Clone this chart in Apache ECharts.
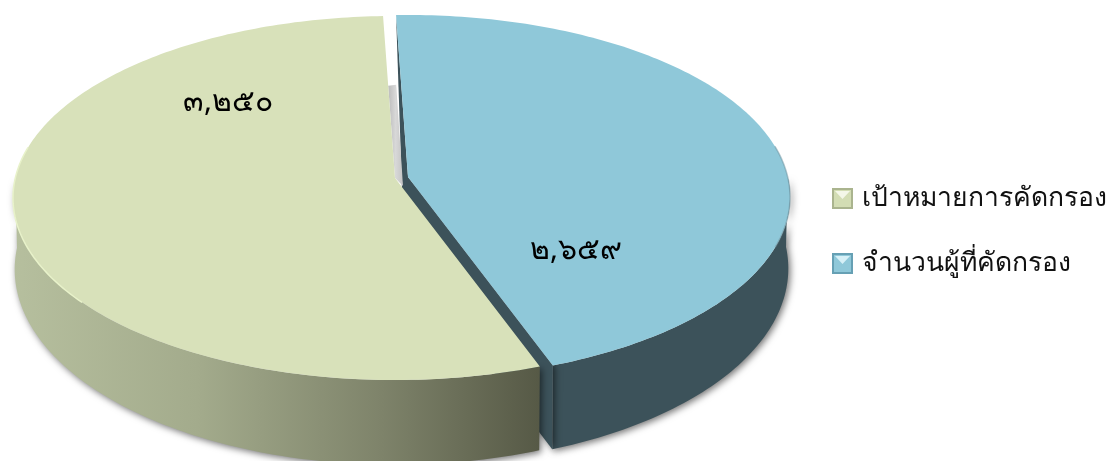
<!DOCTYPE html>
<html>
<head>
<meta charset="utf-8">
<style>html,body{margin:0;padding:0;background:#fff}#c{width:1113px;height:461px}</style>
<script src="https://cdn.jsdelivr.net/npm/echarts@6/dist/echarts.min.js"></script>
</head>
<body>
<div id="c"></div>
<script>
var categories = ['เป้าหมายการคัดกรอง', 'จำนวนผู้ที่คัดกรอง'];
var values = [3250, 2659];
var valueLabels = ['๓,๒๕๐', '๒,๖๕๙'];

var total = values[0] + values[1];
var START = -2;
var K = 0.11;
var planes = {
  top: {A: 179.8, B: 379.7},
  low: {A: 193, B: 378, dy: 70}
};
var looks = [
  {ax: 395, ay: 178, top: '#d8e1ba', rim: '#e8f2ca', wall: {type:'linear',x:13,y:0,x2:540,y2:0,global:true,colorStops:[
    {offset:0,color:'#b6bf9e'},{offset:.35,color:'#a3ab8c'},{offset:.7,color:'#7e836a'},{offset:1,color:'#565946'}]},
    lx: 228, ly: 102, legend:'#d8e1ba'},
  {ax: 408, ay: 177, top: '#8fc8d9', rim: 'rgba(110,145,157,.5)', wall: '#3c525a', lx: 576, ly: 250, legend:'#8fc8d9'}
];
function icon(light, base, dark) {
  var s = "<svg xmlns='http://www.w3.org/2000/svg' width='21' height='21'>" +
    "<rect width='21' height='21' fill='" + dark + "'/>" +
    "<rect x='2' y='2' width='17' height='17' fill='" + base + "'/>" +
    "<polygon points='3,3 18,3 10.5,11' fill='" + light + "'/></svg>";
  return 'image://data:image/svg+xml;charset=utf-8,' + encodeURIComponent(s);
}
function rad(d){return d*Math.PI/180;}
function pt(look, plane, deg) {
  var s = 1/(1 + K*Math.cos(rad(deg)));
  return [look.ax + plane.B*Math.sin(rad(deg))*s,
          look.ay + (plane.dy||0) - plane.A*Math.cos(rad(deg))*s];
}
function arc(look, plane, a, b) {
  var out = [], n = Math.max(2, Math.ceil(Math.abs(b-a)));
  for (var i=0;i<=n;i++) out.push(pt(look, plane, a+(b-a)*i/n));
  return out;
}
function slice(idx) {
  return function (params, api) {
    var look = looks[idx];
    var v = api.value(0);
    var span = v/total*360;
    var a = idx === 1 ? START : START + values[1]/total*360;
    var b = a + span;
    var apex = [look.ax, look.ay];
    var kids = [];
    var shadow = {shadowBlur:7, shadowColor:'rgba(0,0,0,.55)', shadowOffsetX:2, shadowOffsetY:2};
    var wa, wb;
    if (idx === 1) { wa = 90; wb = b; } else { wa = a; wb = 270; }
    var wallPts = arc(look, planes.top, wa, wb).concat(arc(look, planes.low, wa, wb).reverse());
    kids.push({type:'polygon', shape:{points:wallPts}, style:Object.assign({fill:look.wall}, shadow), silent:true});
    if (idx === 1) {
      var endTop = pt(look, planes.top, b), endLow = pt(look, planes.low, b);
      kids.push({type:'polygon', shape:{points:[apex, endTop, endLow, [look.ax, look.ay+planes.low.dy+13]]},
        style:Object.assign({fill:look.wall}, shadow), silent:true});
      var st = pt(look, planes.top, a);
      kids.push({type:'polygon', shape:{points:[st, apex, [look.ax, look.ay+20], [look.ax-6, look.ay+13]]},
        style:{fill:look.wall}, silent:true});
    } else {
      var e = pt(look, planes.top, b);
      var t = 0.43, p = [e[0]+(apex[0]-e[0])*t, e[1]+(apex[1]-e[1])*t];
      kids.push({type:'polygon', shape:{points:[p,[p[0]+8,p[1]-1],[apex[0]+8,apex[1]+8],apex]},
        style:{fill:{type:'linear',x:0,y:0,x2:1,y2:0,colorStops:[{offset:0,color:'#bcbcbc'},{offset:.5,color:'#d8d8d8'},{offset:1,color:'#c4c4c4'}]}}, silent:true});
    }
    var topPts = [apex].concat(arc(look, planes.top, a, b));
    kids.push({type:'polygon', shape:{points:topPts}, style:{fill:look.top}, silent:true});
    var rimA = idx === 1 ? 80 : 230, rimB = idx === 1 ? 112 : 280;
    kids.push({type:'polyline', shape:{points:arc(look, planes.top, rimA, rimB)},
      style:{fill:null, stroke:look.rim, lineWidth:1.5}, silent:true});
    kids.push({type:'text', x:look.lx, y:look.ly,
      style:{text:valueLabels[idx], fill:'#000', font:'30px "Noto Sans", "Liberation Sans", sans-serif', align:'center', verticalAlign:'middle'}, silent:true});
    return {type:'group', children:kids};
  };
}
function mk(idx) {
  return {type:'custom', name:categories[idx], coordinateSystem:'none', renderItem:slice(idx),
    itemStyle:{color:looks[idx].legend}, data:[[values[idx]]], animation:false, clip:false, silent:true};
}
var chart = echarts.init(document.getElementById('c'), null, {renderer:'canvas'});
chart.setOption({
  animation:false,
  backgroundColor:'#fff',
  legend:{
    orient:'vertical', left:832, top:185, padding:0, itemWidth:21, itemHeight:21, itemGap:38, selectedMode:false,
    textStyle:{fontSize:26.5, color:'#111', fontFamily:'"Noto Sans", "Liberation Sans", sans-serif', padding:[12,0,0,4]},
    data:[
      {name:categories[0], icon:icon('#f4f7e8','#d3ddb4','#aab48e')},
      {name:categories[1], icon:icon('#d6f0f7','#8fc8d9','#66a0b4')}
    ]
  },
  series:[mk(1), mk(0)]
});
</script>
</body>
</html>
